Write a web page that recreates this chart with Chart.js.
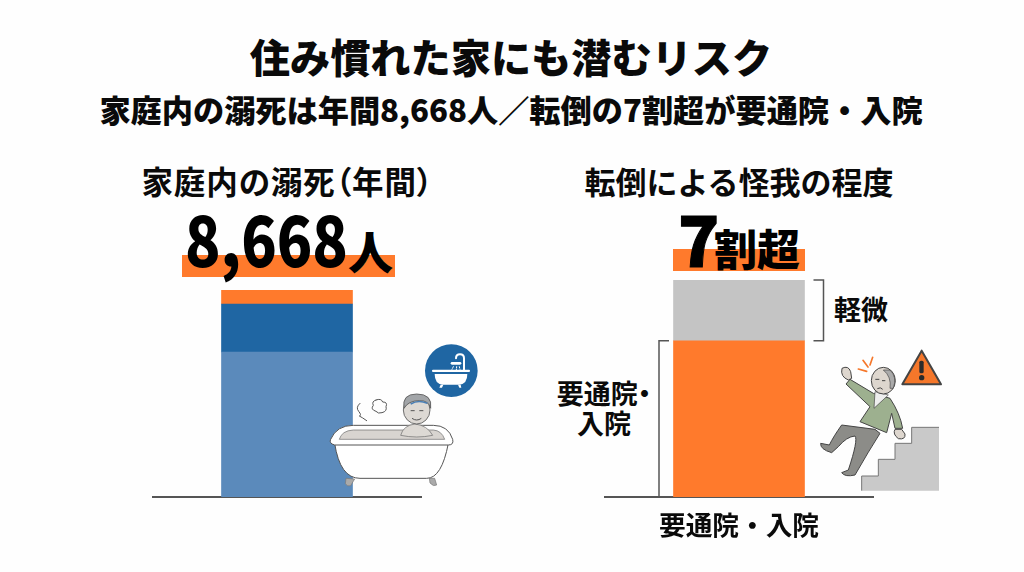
<!DOCTYPE html>
<html lang="ja"><head><meta charset="utf-8">
<script src="https://cdn.jsdelivr.net/npm/chart.js@4"></script>
<style>
html,body{margin:0;padding:0;width:1024px;height:572px;overflow:hidden;background:#fefefe}
body{position:relative;font-family:"Noto Sans CJK JP","Noto Sans",sans-serif;color:#0a0a0a}
.t{position:absolute;white-space:nowrap;line-height:1;font-weight:700}
.c{transform:translateX(-50%);text-align:center}
.hl{position:absolute;background:#FF7A2C}
canvas{display:block}
.cw{position:absolute}
svg{position:absolute;overflow:visible}
</style></head><body>
<div class="t c" style="left:511px;top:36px;font-size:40.2px;font-weight:900" id="title"></div>
<div class="t c" style="left:511px;top:93px;font-size:31.2px;font-weight:900" id="sub"></div>
<div class="t c" style="left:287.5px;top:165px;font-size:31.5px;font-feature-settings:'palt';letter-spacing:.9px" id="lt"></div>
<div class="t c" style="left:739px;top:165px;font-size:31px" id="rt"></div>
<div class="hl" style="left:182px;top:255px;width:213px;height:22px"></div>
<div class="hl" style="left:673px;top:249px;width:132px;height:22px"></div>
<div class="t" style="left:185px;top:204px;font-size:68px;font-weight:900;color:#000;transform:scaleX(.86);transform-origin:left top" id="lnum"></div>
<div class="t" style="left:348px;top:228px;font-size:45px;font-weight:900;color:#000" id="lunit"></div>
<div class="t" style="left:678px;top:204px;font-size:68px;font-weight:900;color:#000;-webkit-text-stroke:1px #000" id="rnum"></div>
<div class="t" style="left:714px;top:226px;font-size:43px;font-weight:900;color:#000" id="runit"></div>
<div class="t" style="left:834px;top:295px;font-size:27px" id="lbl1"></div>
<div class="t c" style="left:604px;top:378px;font-size:27px;line-height:30px;font-feature-settings:'palt'" id="lbl2"></div>

<div class="cw" style="left:152px;top:280px;width:270px;height:280px"><canvas id="c1"></canvas></div>
<div class="cw" style="left:604px;top:270px;width:270px;height:290px"><canvas id="c2"></canvas></div>

<!-- bath illustration -->
<svg style="left:140px;top:150px" width="350" height="360" viewBox="0 0 1050 1080">
 <circle cx="934" cy="662" r="79" fill="#1F66A3"/>
 <g fill="none" stroke="#fff" stroke-width="6" stroke-linecap="round">
  <path d="M972 660V625q0-12-12-12t-12 12"/>
  <path d="M936 640l24 0" stroke-width="8"/>
  <path d="M940 650l-4 8M950 650l-1 10M958 650l2 8" stroke-width="3" stroke-dasharray="3 4"/>
 </g>
 <rect x="876" y="659" width="114" height="7" rx="3" fill="#fff"/>
 <path d="M884 672H982Q982 702 958 704H908Q884 702 884 672Z" fill="#fff"/>
 <path d="M902 704l-4 9h8l4-9zM954 704l4 9h6l-2-9z" fill="#fff"/>
 <g fill="none" stroke="#555" stroke-width="3" stroke-linecap="round">
  <path d="M660 760q-14 12-4 24t2 14q8 4 22 14"/>
  <path d="M708 750q-14 4-8 16q-10 12 8 18q6 8 18 4q16-4 12-18q6-14-10-14q-4-12-20-6"/>
 </g>
 <path d="M618 985l-2 16q6 10 16 6l12-20zM868 985l2 14q10 12 20 6l-6-20z" fill="#aaa" stroke="#777" stroke-width="2"/>
 <path d="M584 880Q600 985 660 985H860Q905 985 925 880Z" fill="#fff" stroke="#555" stroke-width="3"/>
 <path d="M584 885Q566 880 572 868Q590 826 640 826H880Q925 826 938 868Q942 885 925 885Z" fill="#fff" stroke="#555" stroke-width="3"/>
 <path d="M598 868Q605 842 640 840H880Q905 842 914 868Z" fill="#d8d4d0" stroke="#666" stroke-width="2"/>
 <path d="M782 856Q790 826 825 822Q862 826 878 856Q830 866 782 856Z" fill="#ddd9d4" stroke="#666" stroke-width="2"/>
 <ellipse cx="830" cy="780" rx="40" ry="42" fill="#ddd9d4" stroke="#555" stroke-width="2.5"/>
 <path d="M792 775Q785 732 830 732Q878 732 872 775Q865 750 838 752Q805 752 792 775Z" fill="#a2a5a8" stroke="#555" stroke-width="2.5"/>
 <path d="M812 762Q835 748 862 760" stroke="#4a7fb5" stroke-width="5" fill="none"/>
 <path d="M812 782h12M838 782h12M816 805q14 10 28 0" stroke="#555" stroke-width="3" fill="none"/>
</svg>

<!-- fall illustration -->
<svg style="left:540px;top:150px" width="420" height="400" viewBox="0 0 1260 1200">
 <path d="M965 1022V978H1015V928H1065V880H1115V832H1197V1022Z" fill="#c9c9c9"/>
 <path d="M965 1022V978H1015V928H1065V880H1115V832H1197" fill="none" stroke="#777" stroke-width="3"/>
 <path d="M1145 602L1203 703H1087Z" fill="#F5772A" stroke="#444" stroke-width="6" stroke-linejoin="round"/>
 <rect x="1138" y="632" width="13" height="38" rx="5" fill="#2b2b2b"/><circle cx="1145" cy="683" r="8" fill="#2b2b2b"/>
 <g stroke="#F5772A" stroke-width="5" stroke-linecap="round"><path d="M955 657l25 7M969 631l15 20M998 622l-8 23"/></g>
 <path d="M1005 838L905 825Q880 860 868 885L842 880Q840 898 875 908L895 890Q920 860 945 858Q955 870 925 960L905 968Q915 982 945 975Q985 905 1020 850Z" fill="#8c8c88" stroke="#444" stroke-width="3" stroke-linejoin="round"/>
 <path d="M1000 730L930 688L918 702L990 770L960 815L1040 848L1055 790L1065 835H1088Q1080 790 1050 745Z" fill="#9DB08F" stroke="#444" stroke-width="3" stroke-linejoin="round"/>
 <path d="M1065 838q-8 14 10 28q22 4 20-14l-10-14z" fill="#ddd6ce" stroke="#444" stroke-width="3"/>
 <path d="M925 690Q900 680 906 655Q925 645 932 665L935 685Z" fill="#ddd6ce" stroke="#444" stroke-width="3"/>
 <path d="M1005 725L1045 735L1002 775Z" fill="#eee" stroke="#444" stroke-width="2"/>
 <ellipse cx="1030" cy="692" rx="36" ry="40" fill="#ddd6ce" stroke="#444" stroke-width="3"/>
 <path d="M1050 660Q1072 680 1060 715L1050 715Q1055 680 1030 660Z" fill="#aaa" stroke="#444" stroke-width="2"/>
 <path d="M1006 688h12M1026 692h10M1012 716q10-6 16 2" stroke="#444" stroke-width="3" fill="none"/>
</svg>

<script>
/* ---------- data ---------- */
const titleText = "住み慣れた家にも潜むリスク";
const subtitleText = "家庭内の溺死は年間8,668人／転倒の7割超が要通院・入院";
const leftTitle = "家庭内の溺死（年間）";
const rightTitle = "転倒による怪我の程度";
const leftCategories = [""];
const leftLower = [6070];
const leftMiddle = [2010];
const leftUpper = [588];
const leftMax = 8668;
const rightCategories = ["要通院・入院"];
const rightSevere = [72];
const rightMinor = [28];
const rightMax = 100;

/* ---------- text ---------- */
const setT=(id,s)=>document.getElementById(id).textContent=s;
setT('title',titleText);setT('sub',subtitleText);setT('lt',leftTitle);setT('rt',rightTitle);
setT('lnum','8,668');setT('lunit','人');setT('rnum','7');setT('runit','割超');setT('lbl1','軽微');
document.getElementById('lbl2').innerHTML='要通院・<br>入院';

/* ---------- charts ---------- */
const FONT='"Noto Sans CJK JP","Noto Sans",sans-serif';
const BASE_H=63; // axis block below baseline
function opts(max,topPad){return{
  responsive:false,animation:false,
  layout:{padding:{top:topPad,left:0,right:0,bottom:0}},
  plugins:{legend:{display:false},tooltip:{enabled:false}},
  scales:{
    x:{stacked:true,afterFit:s=>{s.height=BASE_H},
       grid:{display:false,drawTicks:false},
       border:{display:true,color:'#555',width:2},
       ticks:{color:'#0a0a0a',padding:12,maxRotation:0,font:{family:FONT,size:26.7,weight:'700'}}},
    y:{stacked:true,display:false,min:0,max:max}
  }}}
const bar=(data,c)=>({data,backgroundColor:c,borderWidth:0,barThickness:131,categoryPercentage:1,barPercentage:1});
for(const [id,w,h] of [['c1',270,280],['c2',270,290]]){const c=document.getElementById(id);c.width=w;c.height=h;c.style.width=w+'px';c.style.height=h+'px';}

new Chart(document.getElementById('c1'),{type:'bar',
  data:{labels:leftCategories,datasets:[bar(leftLower,'#5B8ABB'),bar(leftMiddle,'#1F66A3'),bar(leftUpper,'#FF7A2C')]},
  options:opts(leftMax,10)});

const brackets={id:'brackets',afterDraw(ch){
  const {ctx,scales:{x,y}}=ch;
  const cx=x.getPixelForValue(0), half=65.5;
  const yTop=y.getPixelForValue(rightMax), yMid=y.getPixelForValue(rightSevere[0]), yBase=y.getPixelForValue(0);
  ctx.save();ctx.strokeStyle='#555';ctx.lineWidth=1.5;
  const rx=cx+half+19, lx=cx-half-14.5;
  ctx.beginPath();
  ctx.moveTo(rx-10,yTop);ctx.lineTo(rx,yTop);ctx.lineTo(rx,yMid);ctx.lineTo(rx-10,yMid);
  ctx.moveTo(lx+10,yMid);ctx.lineTo(lx,yMid);ctx.lineTo(lx,yBase);
  ctx.stroke();ctx.restore();
}};
new Chart(document.getElementById('c2'),{type:'bar',
  data:{labels:rightCategories,datasets:[bar(rightSevere,'#FF7A2C'),bar(rightMinor,'#C4C4C4')]},
  options:opts(rightMax,10),plugins:[brackets]});
</script>
</body></html>
